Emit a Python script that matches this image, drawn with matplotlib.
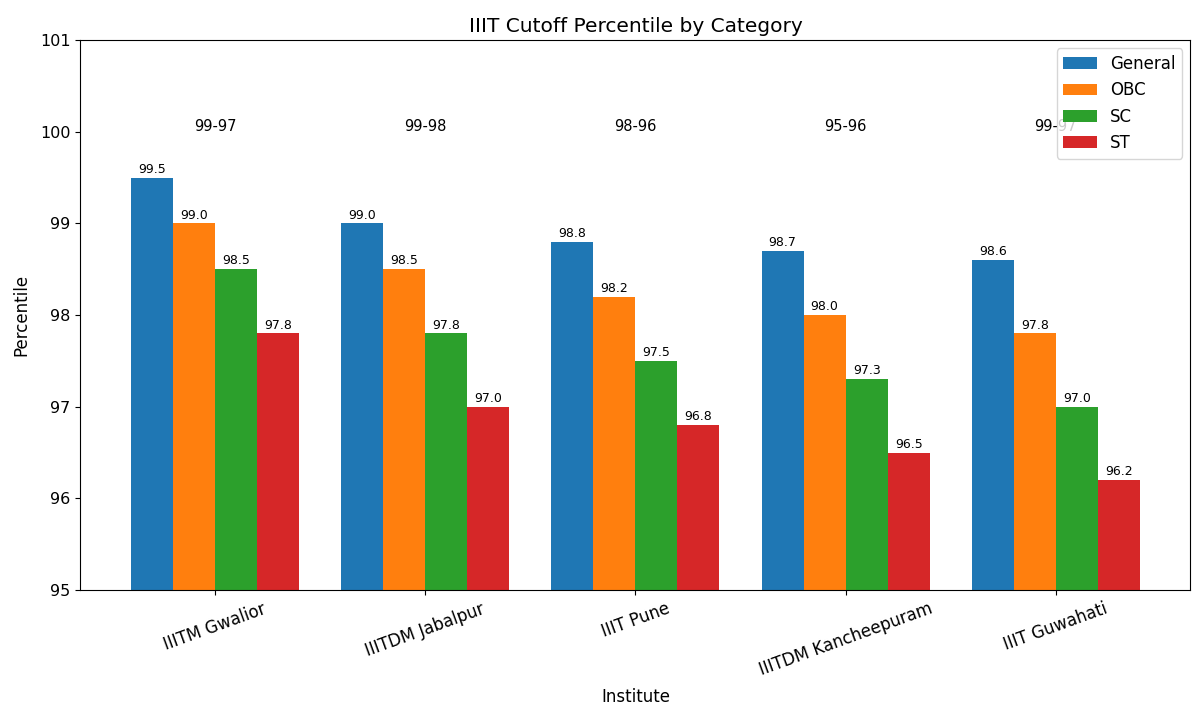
import numpy as np
import matplotlib
matplotlib.use("Agg")
import matplotlib.pyplot as plt

institutes = ["IIITM Gwalior", "IIITDM Jabalpur", "IIIT Pune",
              "IIITDM Kancheepuram", "IIIT Guwahati"]
categories = ["General", "OBC", "SC", "ST"]
general = [99.5, 99.0, 98.8, 98.7, 98.6]
obc = [99.0, 98.5, 98.2, 98.0, 97.8]
sc = [98.5, 97.8, 97.5, 97.3, 97.0]
st = [97.8, 97.0, 96.8, 96.5, 96.2]
ranges = ["99-97", "99-98", "98-96", "95-96", "99-97"]

series = [general, obc, sc, st]
colors = ["#1f77b4", "#ff7f0e", "#2ca02c", "#d62728"]

fig, ax = plt.subplots(figsize=(12, 7.16), dpi=100)
x = np.arange(len(institutes))
width = 0.2

for i, (vals, name) in enumerate(zip(series, categories)):
    bars = ax.bar(x + (i - 1.5) * width, vals, width, label=name, color=colors[i])
    for b, v in zip(bars, vals):
        ax.text(b.get_x() + b.get_width() / 2, v + 0.02, f"{v:.1f}",
                ha="center", va="bottom", fontsize=9)

# range labels above each group
for xi, r in zip(x, ranges):
    ax.text(xi, 99.97, r, ha="center", va="bottom", fontsize=10.5)

ax.set_ylim(95, 101)
ax.set_xticks(x)
ax.set_xticklabels(institutes, rotation=20, fontsize=12)
ax.tick_params(axis="y", labelsize=11.5)
ax.set_xlabel("Institute", fontsize=12, labelpad=6)
ax.set_ylabel("Percentile", fontsize=12, labelpad=7)
ax.set_title("IIIT Cutoff Percentile by Category", fontsize=14.5)
ax.legend(loc="upper right", fontsize=12)

plt.subplots_adjust(left=0.067, right=0.992, top=0.944, bottom=0.176)
plt.savefig("out.png", dpi=100)
